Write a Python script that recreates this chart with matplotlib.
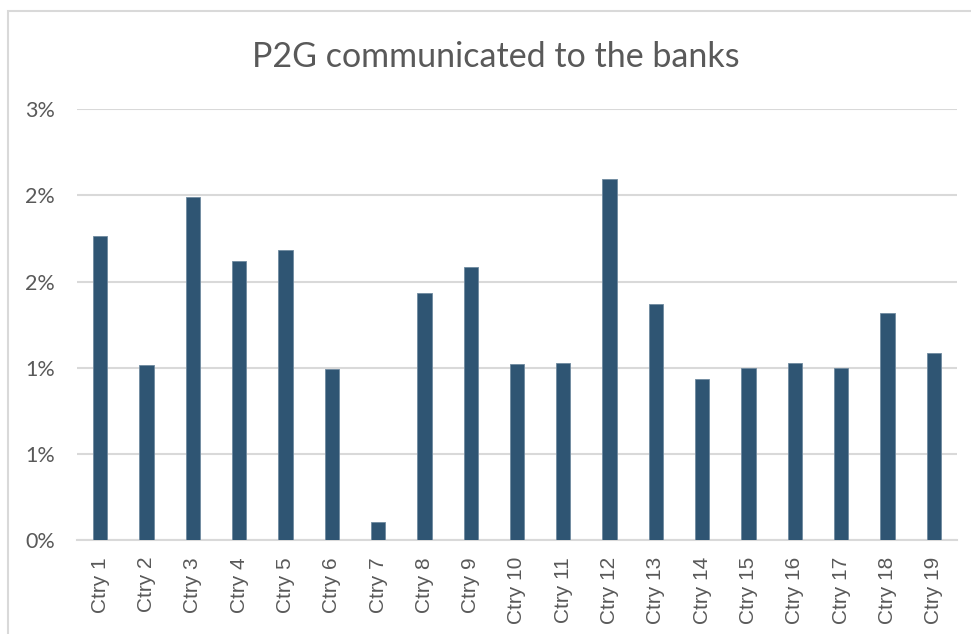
import matplotlib
matplotlib.use('Agg')
import matplotlib.pyplot as plt
from matplotlib.patches import Rectangle
from matplotlib.ticker import FuncFormatter
import math

# data (share, %)
countries = ['Ctry 1', 'Ctry 2', 'Ctry 3', 'Ctry 4', 'Ctry 5', 'Ctry 6', 'Ctry 7',
             'Ctry 8', 'Ctry 9', 'Ctry 10', 'Ctry 11', 'Ctry 12', 'Ctry 13',
             'Ctry 14', 'Ctry 15', 'Ctry 16', 'Ctry 17', 'Ctry 18', 'Ctry 19']
p2g_pct = [1.763, 1.015, 1.991, 1.618, 1.682, 0.994, 0.104,
           1.433, 1.584, 1.024, 1.028, 2.096, 1.371,
           0.936, 0.999, 1.028, 0.999, 1.320, 1.086]
y_ticks = [0, 0.5, 1.0, 1.5, 2.0, 2.5]

bar_color = '#2F5573'
grid_color = '#D9D9D9'
text_color = '#595959'


def pct_label(v, pos):
    # Excel-style half-up rounding (0.5 -> 1%, 2.5 -> 3%)
    return f'{int(math.floor(v + 0.5 + 1e-9))}%'


fig = plt.figure(figsize=(9.71, 6.34), dpi=100)
ax = fig.add_axes([77 / 971, 1 - 540.3 / 634, (957 - 77) / 971, (540.3 - 109) / 634])

# chart area border (right/bottom run off the picture)
fig.patches.append(Rectangle((7.5 / 971, -0.05), 1.1, 1 - 10.5 / 634 + 0.05,
                             transform=fig.transFigure, fill=False,
                             edgecolor=grid_color, linewidth=1.5, zorder=0))

x = range(len(countries))
ax.bar(x, p2g_pct, width=0.31, color=bar_color, edgecolor='#6F8AA0',
       linewidth=0.6, zorder=3)

ax.set_xlim(-0.5, len(countries) - 0.5)
ax.set_ylim(0, 2.5)
ax.set_yticks(y_ticks)
ax.yaxis.set_major_formatter(FuncFormatter(pct_label))
ax.grid(axis='y', color=grid_color, linewidth=1.5, zorder=0)

ax.set_xticks(list(x))
ax.set_xticklabels(countries, rotation=90, fontsize=15, color=text_color,
                   family='Liberation Sans')
for lab in ax.get_yticklabels():
    lab.set_fontsize(15.5)
    lab.set_color(text_color)
    lab.set_family('Lato')

ax.tick_params(axis='both', length=0)
ax.tick_params(axis='x', pad=12)
ax.tick_params(axis='y', pad=16)
for side in ['top', 'right', 'left']:
    ax.spines[side].set_visible(False)
ax.spines['bottom'].set_color(grid_color)
ax.spines['bottom'].set_linewidth(1.5)

fig.text(496 / 971, 1 - 57 / 634, 'P2G communicated to the banks', ha='center',
         va='center', fontsize=24.5, color=text_color, family='Lato')

fig.savefig('out.png', dpi=100)
plt.close(fig)
